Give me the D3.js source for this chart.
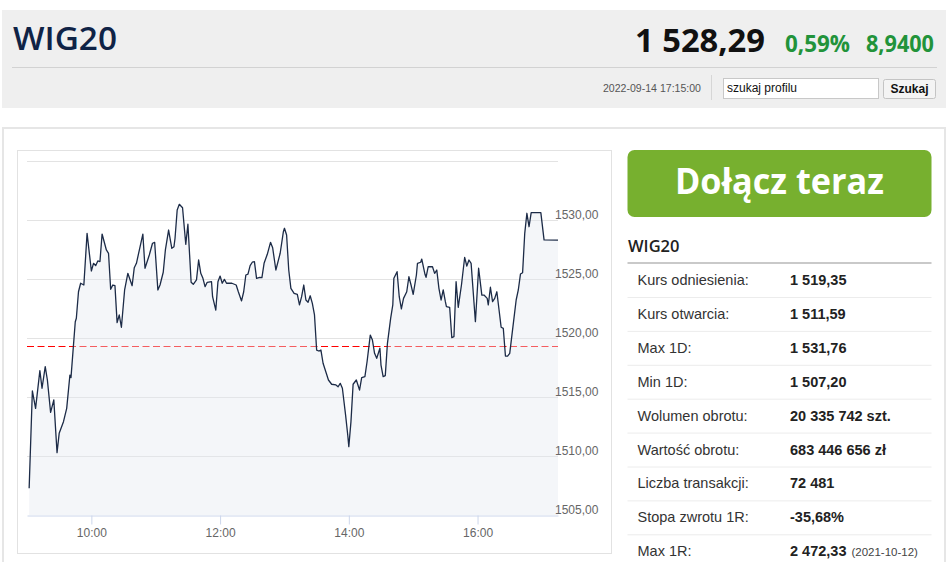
<!DOCTYPE html>
<html>
<head>
<meta charset="utf-8">
<script src="https://cdn.jsdelivr.net/npm/d3@7"></script>
<style>
  html, body { margin: 0; padding: 0; background: #fff; }
  svg { display: block; }
</style>
</head>
<body>
<div id="vis"></div>
<script>

// header
var ticker = "WIG20";
var lastPrice = "1 528,29";
var changePct = "0,59%";
var changeAbs = "8,9400";
var stamp = "2022-09-14 17:15:00";

// intraday series
var times = ["9:02","9:05","9:08","9:12","9:14","9:17","9:19","9:22","9:25","9:28",
  "9:30","9:34","9:37","9:40","9:41","9:45","9:46","9:48","9:50","9:53",
  "9:56","10:00","10:02","10:04","10:06","10:08","10:10","10:14","10:16","10:18",
  "10:20","10:22","10:24","10:26","10:28","10:31","10:34","10:38","10:40","10:42",
  "10:48","10:50","10:54","10:57","10:59","11:02","11:04","11:07","11:09","11:12",
  "11:15","11:17","11:18","11:20","11:22","11:25","11:28","11:30","11:33","11:35",
  "11:38","11:40","11:42","11:44","11:46","11:48","11:52","11:53","11:56","11:58",
  "12:00","12:02","12:04","12:06","12:11","12:15","12:17","12:20","12:22","12:24",
  "12:26","12:28","12:30","12:32","12:34","12:37","12:39","12:41","12:44","12:47",
  "12:49","12:52","12:56","12:59","13:00","13:02","13:04","13:06","13:09","13:12",
  "13:14","13:16","13:18","13:20","13:22","13:24","13:26","13:28","13:30","13:32",
  "13:34","13:36","13:39","13:41","13:44","13:48","13:50","13:52","13:54","13:57",
  "13:59","14:00","14:02","14:04","14:07","14:10","14:12","14:15","14:17","14:20",
  "14:22","14:24","14:26","14:29","14:30","14:32","14:34","14:36","14:39","14:41",
  "14:42","14:45","14:47","14:49","14:51","14:54","14:56","14:58","15:00","15:03",
  "15:04","15:07","15:08","15:11","15:12","15:14","15:18","15:20","15:22","15:24",
  "15:26","15:28","15:30","15:31","15:34","15:36","15:38","15:40","15:42","15:45",
  "15:48","15:50","15:52","15:54","15:58","16:01","16:04","16:06","16:09","16:10",
  "16:12","16:14","16:16","16:18","16:22","16:24","16:26","16:28","16:30","16:33",
  "16:36","16:38","16:40","16:42","16:44","16:46","16:48","16:50","16:59","17:02",
  "17:15"];

var prices = [1507.26,1515.51,1514.04,1517.23,1515.74,1517.57,1516.44,1513.70,1514.75,1510.28,
  1511.92,1512.91,1514.04,1516.86,1516.64,1521.38,1521.67,1523.92,1524.64,1524.49,
  1528.87,1525.68,1526.33,1526.13,1526.53,1526.47,1528.81,1527.46,1527.18,1524.13,
  1524.49,1524.43,1521.30,1521.95,1520.91,1524.07,1525.48,1524.43,1525.96,1526.33,
  1528.81,1525.91,1527.03,1528.03,1528.11,1524.07,1524.49,1525.57,1527.46,1529.15,
  1527.60,1527.74,1528.45,1530.85,1531.33,1531.04,1527.94,1529.64,1524.72,1524.55,
  1524.92,1526.61,1525.48,1525.06,1524.35,1524.72,1524.77,1523.50,1522.37,1524.77,
  1525.25,1524.64,1524.97,1524.64,1524.64,1524.49,1523.92,1523.14,1523.92,1525.34,
  1525.42,1526.13,1526.42,1526.47,1525.06,1525.14,1525.11,1526.33,1527.09,1528.11,
  1527.65,1525.76,1527.18,1529.01,1529.30,1528.73,1525.76,1524.21,1523.79,1523.70,
  1522.80,1523.50,1524.49,1523.22,1523.03,1523.58,1522.94,1521.95,1518.98,1518.90,
  1518.98,1517.86,1517.01,1516.44,1516.08,1516.02,1515.87,1516.16,1515.74,1513.47,
  1511.78,1510.79,1512.91,1516.08,1516.44,1515.59,1516.64,1516.72,1517.99,1520.25,
  1519.83,1518.70,1518.28,1519.13,1517.71,1516.72,1516.81,1519.55,1521.67,1522.80,
  1525.06,1525.62,1523.50,1522.46,1523.36,1523.92,1525.19,1524.49,1523.70,1525.34,
  1526.33,1526.42,1526.69,1525.40,1525.14,1526.04,1526.04,1525.48,1525.76,1524.21,
  1523.22,1524.07,1523.08,1522.65,1522.60,1520.03,1520.11,1524.77,1522.60,1524.49,
  1526.84,1526.10,1526.61,1526.33,1521.38,1525.91,1523.64,1523.64,1523.36,1522.80,
  1524.30,1523.08,1523.36,1523.92,1520.91,1520.82,1518.47,1518.47,1518.70,1520.96,
  1523.22,1524.07,1525.42,1525.53,1528.87,1530.57,1529.43,1530.62,1530.62,1528.31,
  1528.29];

var refPrice = 1519.35;
var sessionStart = "9:00";
var sessionEnd = "17:15";
var yGrid = [1505, 1510, 1515, 1520, 1525, 1530, 1535];
var yTicks = [1505, 1510, 1515, 1520, 1525, 1530];

// side table
var statLabels = ["Kurs odniesienia:", "Kurs otwarcia:", "Max 1D:", "Min 1D:", "Wolumen obrotu:",
  "Wartość obrotu:", "Liczba transakcji:", "Stopa zwrotu 1R:", "Max 1R:"];
var statValues = ["1 519,35", "1 511,59", "1 531,76", "1 507,20", "20 335 742 szt.",
  "683 446 656 zł", "72 481", "-35,68%", "2 472,33"];
var statNotes = ["", "", "", "", "", "", "", "", "(2021-10-12)"];

var width = 948, height = 562;
var sans = "'Open Sans', 'Noto Sans', sans-serif";
var arial = "'Liberation Sans', Arial, sans-serif";

var svg = d3.select("#vis").append("svg")
  .attr("width", width)
  .attr("height", height);

function drawHeader() {
  svg.append("rect")
    .attr("x", 2).attr("y", 10).attr("width", 944).attr("height", 98)
    .attr("fill", "#efefef");

  svg.append("text")
    .attr("x", 13).attr("y", 50)
    .attr("textLength", 104).attr("lengthAdjust", "spacingAndGlyphs")
    .style("font-family", sans).style("font-size", "33px").style("font-weight", 600)
    .attr("fill", "#0f2346")
    .text(ticker);

  svg.append("text")
    .attr("x", 635).attr("y", 52)
    .attr("textLength", 130).attr("lengthAdjust", "spacingAndGlyphs")
    .style("font-family", sans).style("font-size", "33px").style("font-weight", 700)
    .attr("fill", "#111")
    .text(lastPrice);

  svg.append("text")
    .attr("x", 785).attr("y", 52)
    .attr("textLength", 65).attr("lengthAdjust", "spacingAndGlyphs")
    .style("font-family", sans).style("font-size", "24px").style("font-weight", 700)
    .attr("fill", "#22933a")
    .text(changePct);

  svg.append("text")
    .attr("x", 866).attr("y", 52)
    .attr("textLength", 68).attr("lengthAdjust", "spacingAndGlyphs")
    .style("font-family", sans).style("font-size", "24px").style("font-weight", 700)
    .attr("fill", "#22933a")
    .text(changeAbs);

  svg.append("line")
    .attr("x1", 12).attr("x2", 937).attr("y1", 67.5).attr("y2", 67.5)
    .attr("stroke", "#d2d2d2");

  svg.append("text")
    .attr("x", 701).attr("y", 91.5).attr("text-anchor", "end")
    .attr("textLength", 98).attr("lengthAdjust", "spacingAndGlyphs")
    .style("font-family", arial).style("font-size", "11px")
    .attr("fill", "#555")
    .text(stamp);

  svg.append("line")
    .attr("x1", 711.5).attr("x2", 711.5).attr("y1", 75).attr("y2", 100)
    .attr("stroke", "#d6d6d6");

  // search box
  svg.append("rect")
    .attr("x", 723.5).attr("y", 78.5).attr("width", 155).attr("height", 20)
    .attr("fill", "#fff").attr("stroke", "#c8c8c8");
  svg.append("text")
    .attr("x", 727).attr("y", 92)
    .style("font-family", arial).style("font-size", "12px")
    .attr("fill", "#111")
    .text("szukaj profilu");

  svg.append("rect")
    .attr("x", 883.5).attr("y", 79.5).attr("width", 52).attr("height", 19)
    .attr("rx", 2)
    .attr("fill", "#f4f4f4").attr("stroke", "#c4c4c4");
  svg.append("text")
    .attr("x", 909.5).attr("y", 93).attr("text-anchor", "middle")
    .style("font-family", arial).style("font-size", "12px").style("font-weight", 700)
    .attr("fill", "#111")
    .text("Szukaj");
}

function drawChart() {
  var parseTime = d3.timeParse("%H:%M");
  var data = times.map(function(t, i) { return { t: parseTime(t), v: prices[i] }; });

  var left = 27, right = 558, top = 161, bottom = 515;

  var xScale = d3.scaleTime()
    .domain([parseTime(sessionStart), parseTime(sessionEnd)])
    .range([left, right]);

  var yScale = d3.scaleLinear()
    .domain([1505, 1535])
    .range([bottom, top]);

  var plLocale = d3.formatLocale({ decimal: ",", thousands: " ", grouping: [3], currency: ["", " zł"] });
  var fmt = plLocale.format(".2f");

  // outer box and card
  svg.append("rect")
    .attr("x", 3).attr("y", 128).attr("width", 942).attr("height", 460)
    .attr("fill", "none").attr("stroke", "#e6e6e6").attr("stroke-width", 2);

  svg.append("rect")
    .attr("x", 17.5).attr("y", 150.5).attr("width", 594).attr("height", 403)
    .attr("fill", "#fff").attr("stroke", "#e2e2e2");

  // grid
  svg.append("g").selectAll("line")
    .data(yGrid.filter(function(d) { return d > 1505; }))
    .join("line")
    .attr("x1", left).attr("x2", right)
    .attr("y1", function(d) { return Math.round(yScale(d)) + 0.5; })
    .attr("y2", function(d) { return Math.round(yScale(d)) + 0.5; })
    .attr("stroke", "#e3e3e3");

  // reference line (under the translucent area)
  var refY = Math.round(yScale(refPrice)) + 0.5;
  svg.append("line")
    .attr("x1", left).attr("x2", right)
    .attr("y1", refY).attr("y2", refY)
    .attr("stroke", "#ff0000").attr("stroke-width", 1)
    .attr("stroke-dasharray", "7,3.5");

  var area = d3.area()
    .x(function(d) { return xScale(d.t); })
    .y0(yScale(1505))
    .y1(function(d) { return yScale(d.v); });

  var line = d3.line()
    .x(function(d) { return xScale(d.t); })
    .y(function(d) { return yScale(d.v); });

  svg.append("path")
    .datum(data)
    .attr("d", area)
    .attr("fill", "rgb(228,232,239)")
    .attr("fill-opacity", 0.4);

  svg.append("path")
    .datum(data)
    .attr("d", line)
    .attr("fill", "none")
    .attr("stroke", "#1c2b47")
    .attr("stroke-width", 1.3)
    .attr("stroke-linejoin", "round");

  // x axis
  var xAxis = d3.axisBottom(xScale)
    .tickValues(xScale.ticks(d3.timeHour.every(2)))
    .tickFormat(d3.timeFormat("%H:%M"))
    .tickSize(9)
    .tickSizeOuter(0)
    .tickPadding(4);

  var gx = svg.append("g")
    .attr("transform", "translate(0," + (bottom + 0.5) + ")")
    .call(xAxis);
  gx.select(".domain").attr("stroke", "#ccd6eb");
  gx.selectAll(".tick line").attr("stroke", "#ccd6eb");
  gx.selectAll(".tick text")
    .attr("fill", "#666")
    .style("font-family", arial).style("font-size", "12px");

  // y labels
  var yAxis = d3.axisRight(yScale)
    .tickValues(yTicks)
    .tickFormat(fmt)
    .tickSize(0)
    .tickPadding(0);

  var gy = svg.append("g")
    .attr("transform", "translate(555,0)")
    .call(yAxis);
  gy.select(".domain").remove();
  gy.selectAll(".tick text")
    .attr("dy", "-0.1em")
    .attr("fill", "#666")
    .style("font-family", arial).style("font-size", "12px");
}

function drawPanel() {
  var px = 627.5, pw = 304;

  svg.append("rect")
    .attr("x", px).attr("y", 150).attr("width", pw).attr("height", 67)
    .attr("rx", 7)
    .attr("fill", "#77b02f");
  svg.append("text")
    .attr("x", px + pw / 2).attr("y", 194).attr("text-anchor", "middle")
    .attr("textLength", 209).attr("lengthAdjust", "spacingAndGlyphs")
    .style("font-family", sans).style("font-size", "36px").style("font-weight", 700)
    .attr("fill", "#fff")
    .text("Dołącz teraz");

  svg.append("text")
    .attr("x", 628).attr("y", 252)
    .style("font-family", sans).style("font-size", "16.5px").style("font-weight", 600)
    .attr("fill", "#222")
    .text(ticker);

  svg.append("line")
    .attr("x1", px).attr("x2", px + pw).attr("y1", 263).attr("y2", 263)
    .attr("stroke", "#c9c9c9").attr("stroke-width", 2);

  var rowY = d3.scaleLinear().domain([0, 1]).range([285, 318.9]);

  var rows = svg.append("g").selectAll("g")
    .data(statLabels)
    .join("g")
    .attr("transform", function(d, i) { return "translate(0," + rowY(i) + ")"; });

  rows.filter(function(d, i) { return i < statLabels.length - 1; })
    .append("line")
    .attr("x1", px).attr("x2", px + pw).attr("y1", 12.5).attr("y2", 12.5)
    .attr("stroke", "#ececec");

  rows.append("text")
    .attr("x", 637.5)
    .style("font-family", arial).style("font-size", "14.5px")
    .attr("fill", "#333")
    .text(function(d) { return d; });

  var val = rows.append("text")
    .attr("x", 790)
    .style("font-family", arial).style("font-size", "14.5px").style("font-weight", 700)
    .attr("fill", "#222");
  val.append("tspan").text(function(d, i) { return statValues[i]; });
  val.append("tspan")
    .attr("dx", 5)
    .style("font-size", "11.5px").style("font-weight", 400)
    .attr("fill", "#444")
    .text(function(d, i) { return statNotes[i]; });
}

drawHeader();
drawChart();
drawPanel();

</script>
</body>
</html>
